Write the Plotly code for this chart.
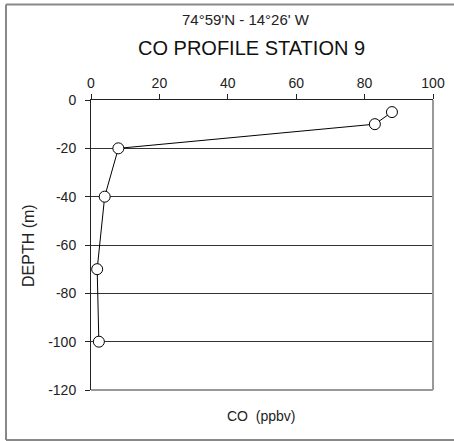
import plotly.graph_objects as go

co_ppbv = [88, 83, 8, 4, 1.8, 2.3]
depth_m = [-5, -10, -20, -40, -70, -100]
x_ticks = [0, 20, 40, 60, 80, 100]
y_ticks = [0, -20, -40, -60, -80, -100, -120]
y_tick_labels = ["0", "-20", "-40", "-60", "-80", "-100", "-120"]

W, H = 454, 441
L, R, T, B = 91, 21, 100, 51
pw, ph = W - L - R, H - T - B

def px(xp):
    return (xp - L) / pw

def py(yp):
    return (H - B - yp) / ph

FONT = "Liberation Sans, Arial, sans-serif"
TXT = "#222222"

fig = go.Figure()
fig.add_trace(go.Scatter(
    x=co_ppbv, y=depth_m, mode="lines+markers",
    line=dict(color="black", width=1),
    marker=dict(symbol="circle", size=11, color="white",
                line=dict(color="black", width=1)),
    showlegend=False, cliponaxis=False,
))

fig.update_layout(
    width=W, height=H,
    margin=dict(l=L, r=R, t=T, b=B, autoexpand=False),
    paper_bgcolor="white", plot_bgcolor="white",
    font=dict(family=FONT, color=TXT, size=14),
    xaxis=dict(
        range=[0, 100], side="top", tickvals=x_ticks,
        ticks="outside", ticklen=5, tickcolor="#222",
        showline=True, linecolor="#222", linewidth=1,
        showgrid=False, zeroline=False, automargin=False,
        tickfont=dict(size=14, color=TXT),
    ),
    yaxis=dict(
        range=[-120, 0], tickvals=y_ticks, ticktext=y_tick_labels,
        ticks="outside", ticklen=5, tickcolor="#222",
        showline=True, linecolor="#222", linewidth=1,
        showgrid=True, gridcolor="#333333", gridwidth=1,
        zeroline=False, automargin=False, ticklabelstandoff=6,
        tickfont=dict(size=14, color=TXT),
    ),
)

# gray right and bottom plot-area border
fig.add_shape(type="line", xref="paper", yref="paper", x0=1, x1=1, y0=0, y1=1,
              line=dict(color="#999999", width=2))
fig.add_shape(type="line", xref="paper", yref="paper", x0=0, x1=1, y0=0, y1=0,
              line=dict(color="#999999", width=2))
# outer frame: left, top and bottom edges (right edge lies off the image)
for (xa, ya, xb, yb) in [(6, 4.5, 6, 440), (6, 4.5, 600, 4.5), (6, 440, 600, 440)]:
    fig.add_shape(type="line", xref="paper", yref="paper",
                  x0=px(xa), y0=py(ya), x1=px(xb), y1=py(yb),
                  line=dict(color="#888888", width=2), layer="below")

fig.add_annotation(text="74°59'N - 14°26' W", xref="paper", yref="paper",
                   x=px(246), y=py(20), showarrow=False,
                   font=dict(size=15, color=TXT), xanchor="center", yanchor="middle")
fig.add_annotation(text="CO PROFILE STATION 9", xref="paper", yref="paper",
                   x=px(251), y=py(48), showarrow=False,
                   font=dict(size=20, color="#111"), xanchor="center", yanchor="middle")
fig.add_annotation(text="CO  (ppbv)", xref="paper", yref="paper",
                   x=px(261), y=py(416), showarrow=False,
                   font=dict(size=14, color=TXT), xanchor="center", yanchor="middle")
fig.add_annotation(text="DEPTH (m)", xref="paper", yref="paper",
                   x=px(28), y=py(246), showarrow=False, textangle=-90,
                   font=dict(size=16, color=TXT), xanchor="center", yanchor="middle")

fig.write_html("out.html", config={"displayModeBar": False},
               post_script="document.body.style.margin='0px';document.body.style.overflow='hidden';")
